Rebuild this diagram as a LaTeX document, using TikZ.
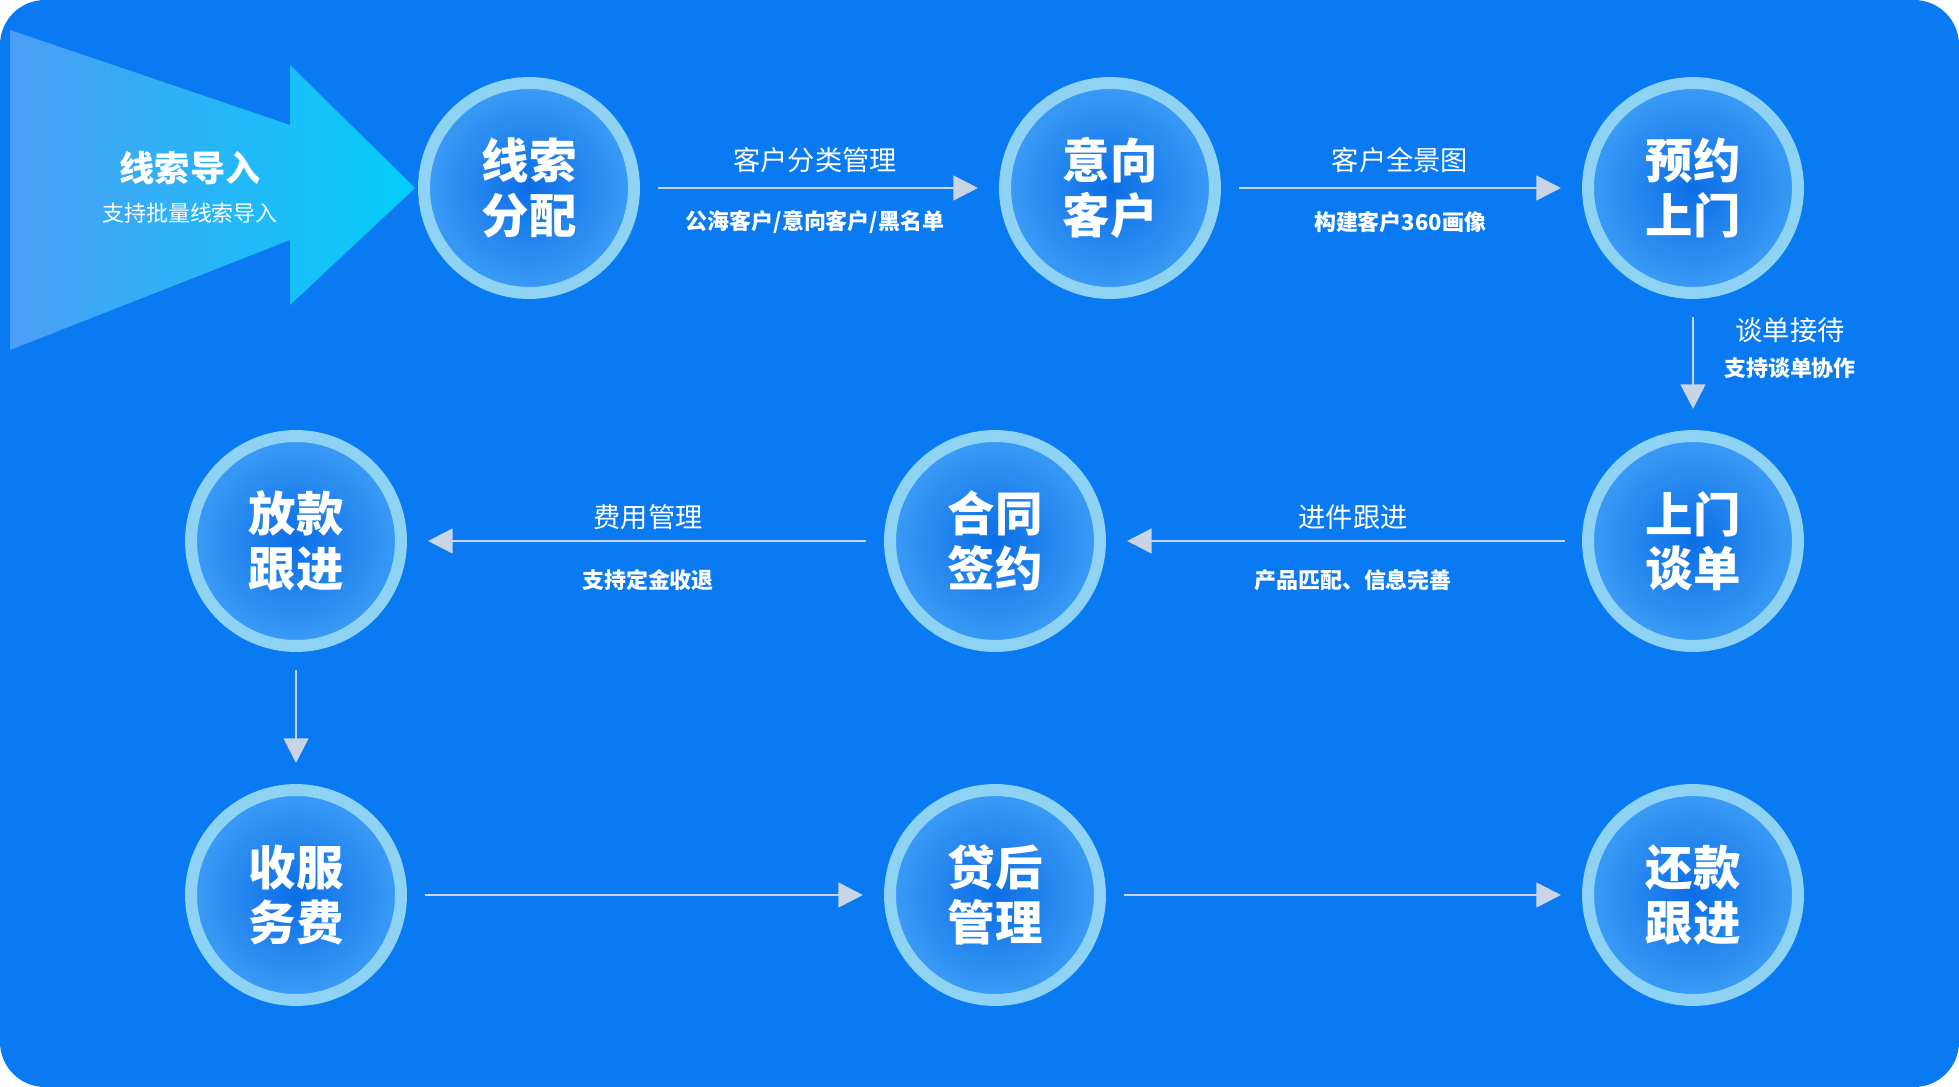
\documentclass[tikz,border=0pt]{standalone}
\usepackage{fontspec}
\setmainfont{Noto Sans CJK SC}
\usetikzlibrary{arrows.meta}
\definecolor{bgblue}{HTML}{0A7AF2}
\definecolor{ringcol}{HTML}{8ED2F4}
\definecolor{innerc}{HTML}{0B6EE6}
\definecolor{outerc}{HTML}{3C9CF6}
\definecolor{linkcol}{HTML}{C9D5E6}
\tikzset{
  stage/.style={circle, minimum size=4.2cm, draw=ringcol, line width=6.8pt,
    inner color=innerc, outer color=outerc, text=white, align=center,
    font=\fontsize{27}{31}\selectfont\bfseries},
  link/.style={draw=linkcol, line width=1.5pt, -{Triangle[length=14pt,width=14pt]},
    shorten <=10pt, shorten >=12pt},
  toplabel/.style={text=white, font=\fontsize{15.5}{18}\selectfont},
  sublabel/.style={text=white, font=\fontsize{12.5}{15}\selectfont\bfseries}
}
\begin{document}
\begin{tikzpicture}[x=0.02cm,y=-0.02cm]

  \useasboundingbox (0,0) rectangle (1959,1087);
  \fill[bgblue, rounded corners=0.9cm] (0,0) rectangle (1959,1087);

  % entry arrow
  \shade[left color=bgblue!70!white, right color=cyan!70!bgblue, opacity=0.9]
    (10,30) -- (290,125) -- (290,65) -- (415,188) -- (290,305) -- (290,240) -- (10,350) -- cycle;
  \node[text=white, font=\fontsize{20}{24}\selectfont\bfseries] (inTitle) at (190,168) {线索导入};
  \node[text=white, font=\fontsize{12.5}{15}\selectfont] (inSub) at (190,213) {支持批量线索导入};

  % stages
  \node[stage] (assign) at (529,188) {线索\\分配};
  \node[stage] (intent) at (1110,188) {意向\\客户};
  \node[stage] (visit) at (1693,188) {预约\\上门};
  \node[stage] (talk) at (1693,541) {上门\\谈单};
  \node[stage] (contract) at (995,541) {合同\\签约};
  \node[stage] (loan) at (296,541) {放款\\跟进};
  \node[stage] (fee) at (296,895) {收服\\务费};
  \node[stage] (after) at (995,895) {贷后\\管理};
  \node[stage] (repay) at (1693,895) {还款\\跟进};

  % connectors
  \draw[link] (assign) -- (intent);
  \draw[link] (intent) -- (visit);
  \draw[link] (visit) -- (talk);
  \draw[link] (talk) -- (contract);
  \draw[link] (contract) -- (loan);
  \draw[link] (loan) -- (fee);
  \draw[link] (fee) -- (after);
  \draw[link] (after) -- (repay);

  % labels
  \node[toplabel] (l1a) at (815,160) {客户分类管理};
  \node[sublabel] (l1b) at (815,222) {公海客户/意向客户/黑名单};
  \node[toplabel] (l2a) at (1400,160) {客户全景图};
  \node[sublabel] (l2b) at (1400,222) {构建客户360画像};
  \node[toplabel] (l3a) at (1790,330) {谈单接待};
  \node[sublabel] (l3b) at (1790,368) {支持谈单协作};
  \node[toplabel] (l4a) at (1353,517) {进件跟进};
  \node[sublabel] (l4b) at (1353,580) {产品匹配、信息完善};
  \node[toplabel] (l5a) at (648,517) {费用管理};
  \node[sublabel] (l5b) at (648,580) {支持定金收退};

\end{tikzpicture}
\end{document}
